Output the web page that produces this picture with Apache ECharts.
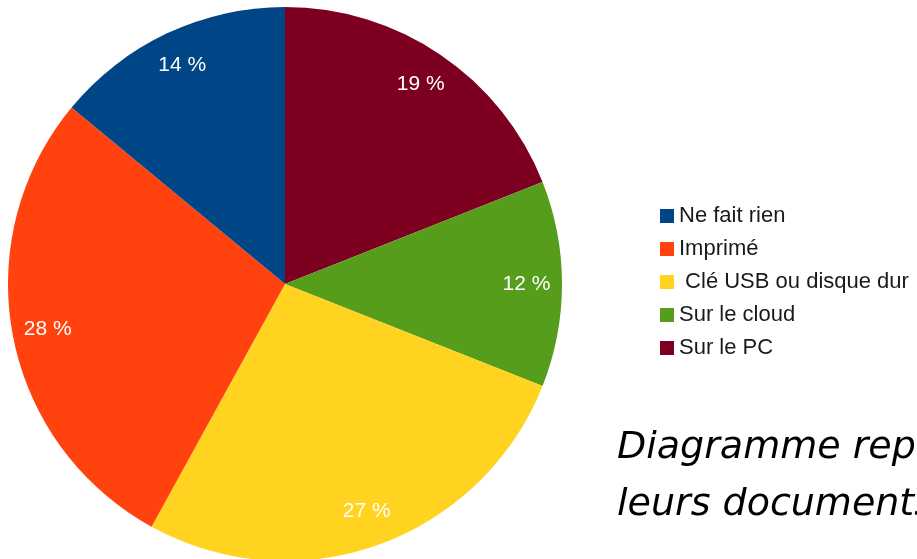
<!DOCTYPE html>
<html>
<head>
<meta charset="utf-8">
<script src="https://cdn.jsdelivr.net/npm/echarts@6/dist/echarts.min.js"></script>
<style>
html, body { margin: 0; padding: 0; background: #fff; }
#main { width: 917px; height: 559px; }
</style>
</head>
<body>
<div id="main"></div>
<script>
// données (ordre de dessin, sens horaire depuis midi)
var noms = ['Sur le PC', 'Sur le cloud', ' Clé USB ou disque dur', 'Imprimé', 'Ne fait rien'];
var valeurs = [19, 12, 27, 28, 14];
var couleurs = ['#7e0021', '#579d1c', '#ffd320', '#ff420e', '#004586'];
// ordre de la légende
var ordreLegende = ['Ne fait rien', 'Imprimé', ' Clé USB ou disque dur', 'Sur le cloud', 'Sur le PC'];

var chart = echarts.init(document.getElementById('main'));

var donnees = [];
var etiquettes = [];
for (var i = 0; i < noms.length; i++) {
    donnees.push({value: valeurs[i], name: noms[i], itemStyle: {color: couleurs[i]}});
    etiquettes.push({value: valeurs[i], name: noms[i]});
}

var option = {
    animation: false,
    legend: {
        orient: 'vertical',
        left: 660,
        top: 205,
        padding: 0,
        itemWidth: 14,
        itemHeight: 14,
        itemGap: 11,
        icon: 'rect',
        data: ordreLegende,
        textStyle: {
            fontFamily: 'Liberation Sans',
            fontSize: 22,
            lineHeight: 22,
            color: '#1a1a1a'
        }
    },
    graphic: [
        {
            type: 'text',
            left: 617,
            top: 420,
            style: {
                text: 'Diagramme représentant\nleurs documents',
                font: 'oblique 38px "DejaVu Sans"',
                lineHeight: 57,
                fill: '#000'
            }
        }
    ],
    series: [
        {
            //camembert
            name: 'stockage',
            type: 'pie',
            center: [285, 284],
            radius: [0, 277],
            startAngle: 90,
            clockwise: true,
            data: donnees,
            label: {show: false},
            labelLine: {show: false},
            silent: true
        },
        {
            //pourcentages, placés près du bord
            name: 'etiquettes',
            type: 'pie',
            center: [285, 284],
            radius: [200, 277],
            startAngle: 90,
            clockwise: true,
            data: etiquettes,
            itemStyle: {color: 'rgba(0,0,0,0)'},
            label: {
                show: true,
                position: 'inside',
                formatter: '{c} %',
                color: '#ffffff',
                fontFamily: 'Liberation Sans',
                fontSize: 21
            },
            labelLine: {show: false},
            silent: true
        }
    ]
};

chart.setOption(option);
</script>
</body>
</html>
